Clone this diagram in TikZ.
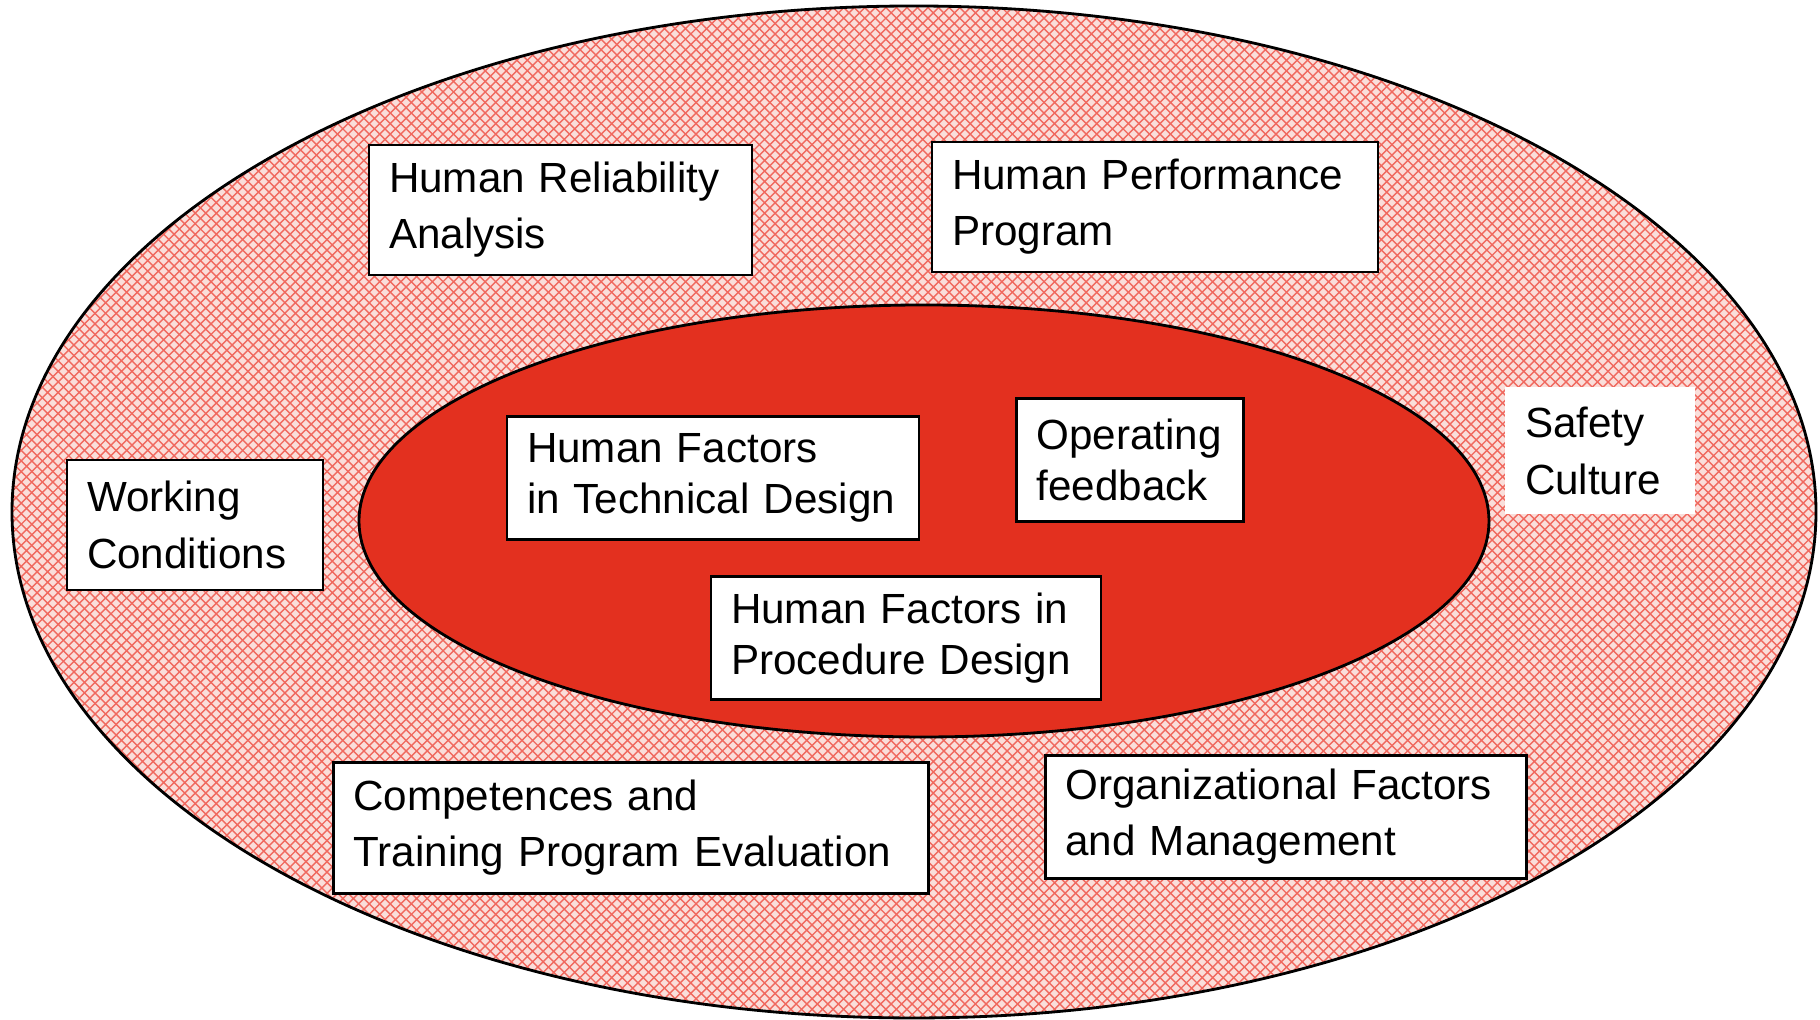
\documentclass[tikz,border=0pt]{standalone}
\usepackage{fontspec}
\setmainfont{Liberation Sans}
\usepackage{xcolor}
\usetikzlibrary{shapes,positioning,calc,patterns}

\definecolor{coreRed}{RGB}{227,48,31}
\definecolor{hatchBase}{RGB}{250,222,218}
\definecolor{hatchRed}{RGB}{240,105,95}

\begin{document}
\begin{tikzpicture}[
    factor/.style={draw=black, line width=0.7pt, fill=white, align=left,
        inner xsep=0.2cm, inner ysep=0pt, font=\fontsize{12}{16}\selectfont},
    core/.style={factor, font=\fontsize{12}{14.5}\selectfont}
]
    \useasboundingbox (0,0) rectangle (18.2,10.2);

    % Outer ellipse
    \fill[hatchBase] (9.14,5.08) ellipse [x radius=9.02, y radius=5.06];
    \fill[pattern=crosshatch, pattern color=hatchRed] (9.14,5.08) ellipse [x radius=9.02, y radius=5.06];
    \draw[line width=0.8pt] (9.14,5.08) ellipse [x radius=9.02, y radius=5.06];

    % Inner ellipse
    \draw[line width=0.8pt, fill=coreRed] (9.24,4.99) ellipse [x radius=5.65, y radius=2.16];

    % Outer factors
    \node[factor, text width=3.43cm, minimum height=1.30cm] (hra) at (5.605,8.10) {Human Reliability\\Analysis};
    \node[factor, text width=4.06cm, minimum height=1.30cm] (hpp) at (11.55,8.13) {Human Performance\\Program};
    \node[factor, text width=2.16cm, minimum height=1.30cm] (wc) at (1.95,4.95) {Working\\Conditions};
    \node[factor, draw=none, text width=1.50cm, minimum height=1.27cm] (sc) at (16.00,5.69) {Safety\\Culture};
    \node[factor, text width=5.55cm, minimum height=1.31cm] (ctp) at (6.31,1.92) {Competences and\\Training Program Evaluation};
    \node[factor, text width=4.41cm, minimum height=1.23cm] (ofm) at (12.86,2.03) {Organizational Factors\\and Management};

    % Core factors
    \node[core, text width=3.72cm, minimum height=1.23cm] (hftd) at (7.13,5.42) {Human Factors\\in Technical Design};
    \node[core, text width=1.87cm, minimum height=1.23cm] (of) at (11.30,5.60) {Operating\\feedback};
    \node[core, text width=3.50cm, minimum height=1.23cm] (hfpd) at (9.06,3.82) {Human Factors in\\Procedure Design};
\end{tikzpicture}
\end{document}
